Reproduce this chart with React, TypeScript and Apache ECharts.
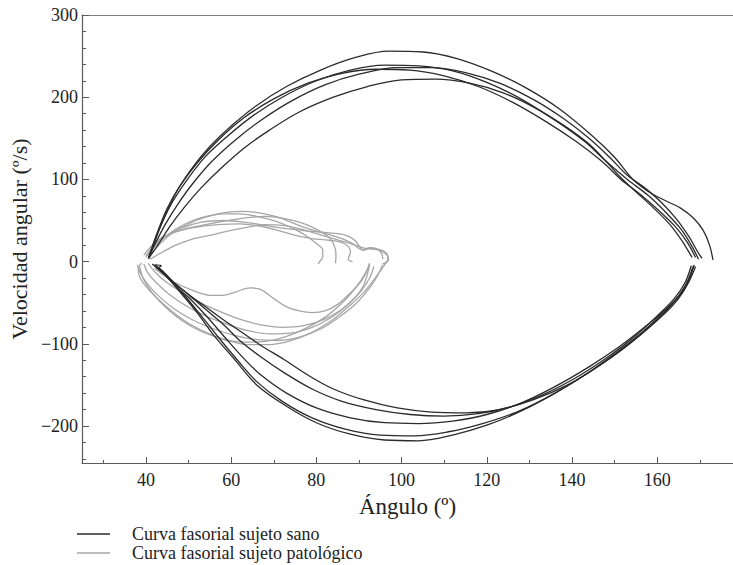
import React, { useEffect, useRef } from "react";
import * as echarts from "echarts";

const FONT = "'Liberation Serif', 'DejaVu Serif', serif";

const xTicks = [40, 60, 80, 100, 120, 140, 160];
const xMinorTicks = [30, 50, 70, 90, 110, 130, 150, 170];
const yTicks = [-200, -100, 0, 100, 200, 300];
const yMinorTicks = [-240, -220, -180, -160, -140, -120, -80, -60, -40, -20, 20, 40, 60, 80, 120, 140, 160, 180, 220, 240, 260, 280];

const healthyName = "Curva fasorial sujeto sano";
const pathoName = "Curva fasorial sujeto patológico";

// Healthy subject: upper arcs (angle increasing)
const healthyTop1 = [[40.6,4],[41.8,20],[43.2,40],[45,62],[47.5,88],[51,115],[55,140],[60,165],[66,190],[73,213],[81,233],[89,248],[97,256],[105,255],[113,247],[121,232],[129,212],[137,186],[145,152],[150,127],[154.3,100],[158,85],[162,74],[165.5,65],[168.5,53],[170.8,38],[172.3,20],[173.1,2]];
const healthyTop2 = [[40.6,4],[42,25],[44,50],[46.5,75],[50,102],[54,128],[59,152],[65,177],[72,200],[80,220],[88,233],[96,239],[104,238],[112,232],[120,218],[128,198],[136,172],[143,146],[148,122],[153,100],[158,80],[162,60],[165.5,40],[168,20],[169.7,3]];
const healthyTop3 = [[40.6,4],[42.2,22],[44.5,45],[47.5,70],[51,95],[55.5,122],[61,148],[67,172],[74,195],[82,215],[90,228],[99,236],[107,236],[115,230],[123,217],[131,197],[138,174],[144,150],[149,126],[153,105],[157,90],[161,72],[164.5,52],[167.5,30],[169.5,12],[170.5,4]];
const healthyTop4 = [[40.6,4],[41.6,20],[43,40],[45,65],[48,92],[52,120],[57,148],[63,175],[70,198],[78,217],[86,229],[94,234],[102,233],[110,226],[118,213],[126,194],[134,170],[141,146],[147,122],[151.5,100],[156,82],[160,64],[164,44],[167,24],[169,5]];
const healthyTop5 = [[40.6,4],[42.8,20],[45.5,42],[49,66],[53,90],[57.5,113],[63,138],[69,160],[76,182],[84,200],[92,213],[100,221],[108,222],[116,217],[124,205],[131,188],[138,166],[144,143],[148,122],[151.5,102],[155,85],[159,66],[163,45],[166,24],[168.2,5]];

// Healthy subject: lower arcs (angle decreasing)
const healthyBottom1 = [[168.5,-5],[167,-28],[165,-45],[162,-62],[157,-85],[151,-110],[144,-135],[136,-160],[128,-182],[120,-199],[112,-211],[104,-218],[96,-217],[88,-210],[80,-196],[73,-176],[66,-150],[60.8,-119],[56,-90],[52,-62],[48.5,-40],[45.5,-22],[43,-10],[41.5,-3]];
const healthyBottom2 = [[168.7,-4],[167.2,-25],[165,-42],[161,-64],[156,-88],[150,-112],[143,-138],[135,-163],[127,-183],[119,-197],[111,-207],[103,-212],[95,-211],[87,-204],[79,-190],[72,-170],[66,-146],[61.5,-120],[57,-92],[53,-66],[49.5,-44],[46.5,-26],[44,-12],[43,-8],[43.6,-5],[42,-4]];
const healthyBottom3 = [[169,-6],[167.5,-24],[165.5,-40],[162,-58],[157,-80],[151,-104],[144,-128],[136,-152],[128,-172],[120,-186],[112,-194],[104,-197],[96,-196],[88,-190],[80,-178],[73,-160],[67,-138],[63,-118],[58.5,-92],[54.5,-68],[50.5,-46],[47,-30],[44.5,-16],[42.5,-6]];
const healthyBottom4 = [[168,-5],[166.5,-26],[164,-45],[160,-66],[155,-90],[149,-114],[142,-138],[134,-160],[126,-176],[118,-185],[110,-188],[102,-186],[94,-180],[86,-170],[79,-155],[72.4,-135],[67,-116],[62,-96],[58.5,-78],[54,-58],[50,-40],[46.5,-25],[44,-12],[42.2,-4]];
const healthyBottom5 = [[168.3,-8],[166.5,-30],[163.5,-52],[159,-76],[153,-102],[146,-128],[139,-150],[131,-168],[123,-180],[115,-184],[107,-183],[99,-178],[91,-168],[84,-155],[78,-138],[72.4,-119],[67,-102],[62.5,-86],[58.5,-72],[54,-55],[50,-40],[47,-28],[44.5,-16],[43,-7]];

// Pathological subject: upper arcs
const pathoTop1 = [[40,6],[42,18],[44.5,30],[47.5,41],[51,50],[55,56],[59,60],[63,61],[67,59],[71,54],[74,48],[77,42],[80,37],[83,33],[86,28],[88.5,22],[90,16],[91,14],[92.5,16],[94,15],[95.5,12],[96.8,6],[96.6,0],[95.5,-3]];
const pathoTop2 = [[40.5,4],[43,20],[46,34],[50,46],[54,54],[58,58],[62,58],[66,55],[70,50],[73,44],[75.5,38],[78,30],[80,22],[81.5,14],[81.5,6],[80.8,0],[80.4,-3]];
const pathoTop3 = [[39.5,8],[41.5,20],[44,30],[48,38],[53,44],[58,49],[63,53],[68,55],[72,53],[76,48],[79,42],[81.5,35],[83.3,28],[84.3,18],[84.6,8],[84.5,-2]];
const pathoTop4 = [[40,5],[43,25],[48,40],[53,48],[58,50],[63,48],[68,44],[73,40],[78,37],[83,35],[87,32],[89,26],[90.2,18],[91,14],[92.5,17],[94,16],[95.3,10],[95.6,3]];
const pathoTop5 = [[41,3],[44,12],[47,20],[50.7,27],[55,32],[60,38],[64,42],[68,45],[72,44],[76,40],[80,34],[84,28],[88,22],[91.5,16],[94.9,14.6],[96.5,10],[96.9,2],[96,-2]];
const pathoTop6 = [[40,7],[43,25],[47,36],[52,42],[57,45],[62,46],[67,43],[71,38],[75,32],[79,28],[83,26],[86.5,22],[88,12],[87.5,3],[88.5,0]];

// Pathological subject: lower arcs
const pathoBottom1 = [[39,-2],[38.2,-8],[38.5,-18],[40,-30],[42.5,-44],[46,-60],[50,-75],[54.5,-87],[59,-96],[64,-101],[69,-101],[74,-96],[79,-86],[83.5,-72],[87.5,-55],[91,-38],[93.5,-22],[95.5,-8],[96.5,0]];
const pathoBottom2 = [[38,-4],[38.8,-15],[40.5,-28],[43,-42],[46.5,-57],[51,-71],[56,-82],[61,-90],[66,-95],[71,-96],[76,-92],[81,-82],[85.5,-67],[89.5,-50],[92.5,-32],[94.5,-16],[95.5,-4]];
const pathoBottom3 = [[39.5,-3],[40.5,-14],[42.5,-26],[45.5,-40],[49.5,-54],[54,-66],[59,-76],[64,-84],[69,-88],[74,-87],[79,-80],[83.5,-68],[87.5,-52],[90.5,-36],[92.5,-20],[93.5,-6]];
const pathoBottom4 = [[40.5,-2],[42,-12],[44.5,-24],[48,-36],[52,-48],[57,-60],[62,-70],[67,-77],[72,-80],[77,-78],[82,-70],[86,-58],[89,-44],[91,-30],[92,-15],[92.5,-4]];
const pathoBottom5 = [[42,-8],[44,-16],[47,-26],[51,-35],[55,-41],[58,-41],[61,-37],[64.5,-32],[67,-34],[70,-45],[73,-55],[76,-60],[79,-62],[82,-60],[85,-52],[88,-38],[90.5,-24],[92,-10],[92.5,-2]];
const pathoBottom6 = [[38.5,-6],[39.5,-22],[41.5,-38],[44.5,-55],[48.5,-72],[53,-85],[58,-94],[63,-98],[68,-97],[73,-91],[78,-80],[82.5,-66],[86.5,-48],[89.5,-30],[91.5,-14],[92.5,-3]];

const healthyCurves = [healthyTop1, healthyTop2, healthyTop3, healthyTop4, healthyTop5, healthyBottom1, healthyBottom2, healthyBottom3, healthyBottom4, healthyBottom5];
const pathoCurves = [pathoTop1, pathoTop2, pathoTop3, pathoTop4, pathoTop5, pathoTop6, pathoBottom1, pathoBottom2, pathoBottom3, pathoBottom4, pathoBottom5, pathoBottom6];

const HEALTHY_COLOR = "#2b2b2b";
const PATHO_COLOR = "#a6a6a6";
const AXIS_COLOR = "#5a5a5a";

export default function App() {
  const ref = useRef<HTMLDivElement>(null);
  useEffect(() => {
    if (!ref.current) return;
    const chart = echarts.init(ref.current, undefined, { renderer: "svg" });
    const mk = (name: string, data: number[][], color: string, z: number) => ({
      type: "line",
      name,
      data,
      xAxisIndex: 0,
      yAxisIndex: 0,
      smooth: 0.35,
      symbol: "none",
      showSymbol: false,
      silent: true,
      z,
      lineStyle: { color, width: 1.3 },
      itemStyle: { color },
    });
    const series = [
      ...pathoCurves.map((d) => mk(pathoName, d, PATHO_COLOR, 2)),
      ...healthyCurves.map((d) => mk(healthyName, d, HEALTHY_COLOR, 3)),
    ];
    const xBase = {
      type: "value",
      min: 25,
      max: 177.8,
      splitLine: { show: false },
    };
    const yBase = {
      type: "value",
      min: -245,
      max: 300,
      splitLine: { show: false },
    };
    const legendEntries = [
      { name: healthyName, color: HEALTHY_COLOR, y: 534 },
      { name: pathoName, color: PATHO_COLOR, y: 553 },
    ];
    const legendGraphics: any[] = [];
    legendEntries.forEach((e) => {
      legendGraphics.push({
        type: "line",
        shape: { x1: 77, y1: e.y, x2: 110, y2: e.y },
        style: { stroke: e.color, lineWidth: 1.4 },
        silent: true,
      });
      legendGraphics.push({
        type: "text",
        x: 132,
        y: e.y,
        style: {
          text: e.name,
          fontFamily: FONT,
          fontSize: 18,
          fill: "#222",
          textVerticalAlign: "middle",
          verticalAlign: "middle",
        },
        silent: true,
      });
    });
    chart.setOption({
      animation: false,
      backgroundColor: "#ffffff",
      textStyle: { fontFamily: FONT },
      grid: { left: 76, right: 0, top: 15, bottom: 102, containLabel: false },
      graphic: legendGraphics,
      xAxis: [
        {
          ...xBase,
          position: "bottom",
          axisLine: { show: true, onZero: false, lineStyle: { color: AXIS_COLOR, width: 1.2 } },
          axisTick: { show: true, inside: true, length: 6, customValues: xTicks, lineStyle: { color: AXIS_COLOR, width: 1 } },
          axisLabel: { show: true, customValues: xTicks, margin: 8, fontSize: 18, color: "#222", fontFamily: FONT },
          name: "Ángulo (º)",
          nameLocation: "middle",
          nameGap: 32,
          nameTextStyle: { fontSize: 23, color: "#222", fontFamily: FONT },
        },
        {
          ...xBase,
          position: "bottom",
          axisLine: { show: false, onZero: false },
          axisTick: { show: true, inside: true, length: 3, customValues: xMinorTicks, lineStyle: { color: AXIS_COLOR, width: 1 } },
          axisLabel: { show: false, customValues: xMinorTicks },
        },
        {
          ...xBase,
          position: "top",
          axisLine: { show: true, onZero: false, lineStyle: { color: "#808080", width: 1.2 } },
          axisTick: { show: false },
          axisLabel: { show: false },
        },
      ],
      yAxis: [
        {
          ...yBase,
          position: "left",
          axisLine: { show: true, onZero: false, lineStyle: { color: AXIS_COLOR, width: 1.2 } },
          axisTick: { show: true, inside: true, length: 7, customValues: yTicks, lineStyle: { color: AXIS_COLOR, width: 1 } },
          axisLabel: {
            show: true,
            customValues: yTicks,
            margin: 4,
            fontSize: 18,
            color: "#222",
            fontFamily: FONT,
            formatter: (v: number) => (v < 0 ? "\u2212" + Math.abs(v) : String(v)),
          },
          name: "Velocidad angular (º/s)",
          nameLocation: "middle",
          nameGap: 48,
          nameTextStyle: { fontSize: 22, color: "#222", fontFamily: FONT },
        },
        {
          ...yBase,
          position: "left",
          axisLine: { show: false, onZero: false },
          axisTick: { show: true, inside: true, length: 4, customValues: yMinorTicks, lineStyle: { color: AXIS_COLOR, width: 1 } },
          axisLabel: { show: false, customValues: yMinorTicks },
        },
      ],
      series,
    });
    return () => chart.dispose();
  }, []);
  return (
    <div
      ref={ref}
      style={{ position: "absolute", left: 0, top: 0, width: 733, height: 565, background: "#fff" }}
    />
  );
}
